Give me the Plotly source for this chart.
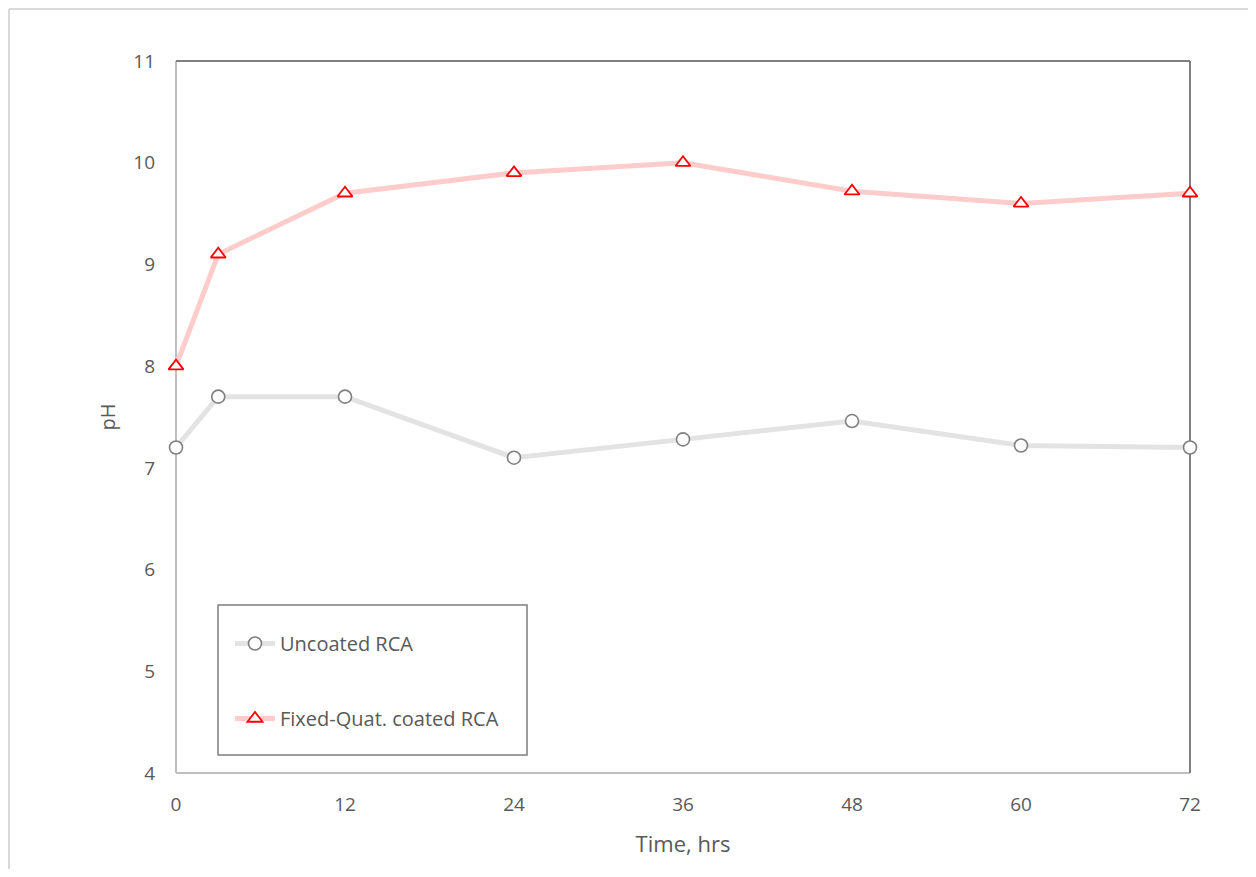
import plotly.graph_objects as go

time_hrs = [0, 3, 12, 24, 36, 48, 60, 72]
uncoated_ph = [7.2, 7.7, 7.7, 7.1, 7.28, 7.46, 7.22, 7.2]
coated_ph = [8.0, 9.1, 9.7, 9.9, 10.0, 9.72, 9.6, 9.7]
x_ticks = [0, 12, 24, 36, 48, 60, 72]
y_ticks = [4, 5, 6, 7, 8, 9, 10, 11]

FONT = "Open Sans, Liberation Sans, sans-serif"
TXT = "#595959"

# figure is placed 8px in from the page corner (body margin)
W, H = 1240, 861
L, R, T, B = 168, 58, 53, 96
PW, PH = W - L - R, H - T - B


def px(x):  # page pixel x -> paper
    return (x - 8 - L) / PW


def py(y):  # page pixel y -> paper
    return (H - B - (y - 8)) / PH


fig = go.Figure()
fig.add_trace(go.Scatter(
    x=time_hrs, y=uncoated_ph, name="Uncoated RCA", mode="lines+markers",
    legendgroup="a",
    line=dict(color="#e3e3e3", width=5),
    marker=dict(symbol="circle", size=13, color="white",
                line=dict(color="#7f7f7f", width=1.6)),
    cliponaxis=False,
))
fig.add_trace(go.Scatter(
    x=time_hrs, y=coated_ph, name="Fixed-Quat. coated RCA", mode="lines+markers",
    legendgroup="b",
    line=dict(color="#ffcccc", width=5),
    marker=dict(symbol="triangle-up", size=13, color="white",
                line=dict(color="#ff0000", width=1.8)),
    cliponaxis=False,
))

fig.update_layout(
    width=W, height=H,
    margin=dict(l=L, r=R, t=T, b=B),
    paper_bgcolor="white", plot_bgcolor="white",
    font=dict(family=FONT, color=TXT, size=18),
    showlegend=True,
    legend=dict(
        x=px(230), y=py(624), xanchor="left", yanchor="top",
        borderwidth=0, bgcolor="rgba(0,0,0,0)",
        font=dict(size=20, color=TXT, family=FONT),
        tracegroupgap=46, itemwidth=40,
    ),
    xaxis=dict(
        range=[0, 72], tickvals=x_ticks, ticks="", showgrid=False, zeroline=False,
        showline=False, tickfont=dict(size=19, color=TXT),
        ticklabelstandoff=18,
        title=dict(text="Time, hrs", font=dict(size=22, color=TXT), standoff=20),
        layer="below traces",
    ),
    yaxis=dict(
        range=[4, 11], tickvals=y_ticks, ticks="", showgrid=False, zeroline=False,
        showline=False, tickfont=dict(size=19, color=TXT),
        ticklabelstandoff=20,
        title=dict(text="pH", font=dict(size=20, color=TXT), standoff=12),
        layer="below traces",
    ),
    shapes=[
        # frame: left & bottom light grey, top & right darker
        dict(type="line", xref="paper", yref="paper", x0=0, x1=0, y0=0, y1=1,
             line=dict(color="#bfbfbf", width=2), layer="below"),
        dict(type="line", xref="paper", yref="paper", x0=0, x1=1, y0=0, y1=0,
             line=dict(color="#bfbfbf", width=2), layer="below"),
        dict(type="line", xref="paper", yref="paper", x0=0, x1=1, y0=1, y1=1,
             line=dict(color="#7f7f7f", width=2), layer="below"),
        dict(type="line", xref="paper", yref="paper", x0=1, x1=1, y0=0, y1=1,
             line=dict(color="#7f7f7f", width=2), layer="below"),
        # legend frame
        dict(type="rect", xref="paper", yref="paper",
             x0=px(218), x1=px(527), y0=py(755), y1=py(605),
             line=dict(color="#7f7f7f", width=1.5), fillcolor="white", layer="below"),
        # outer chart border (top and left)
        dict(type="line", xref="paper", yref="paper",
             x0=px(9), x1=px(1300), y0=py(9), y1=py(9),
             line=dict(color="#d9d9d9", width=2)),
        dict(type="line", xref="paper", yref="paper",
             x0=px(9), x1=px(9), y0=py(9), y1=py(900),
             line=dict(color="#d9d9d9", width=2)),
    ],
)

fig.write_html("out.html")
